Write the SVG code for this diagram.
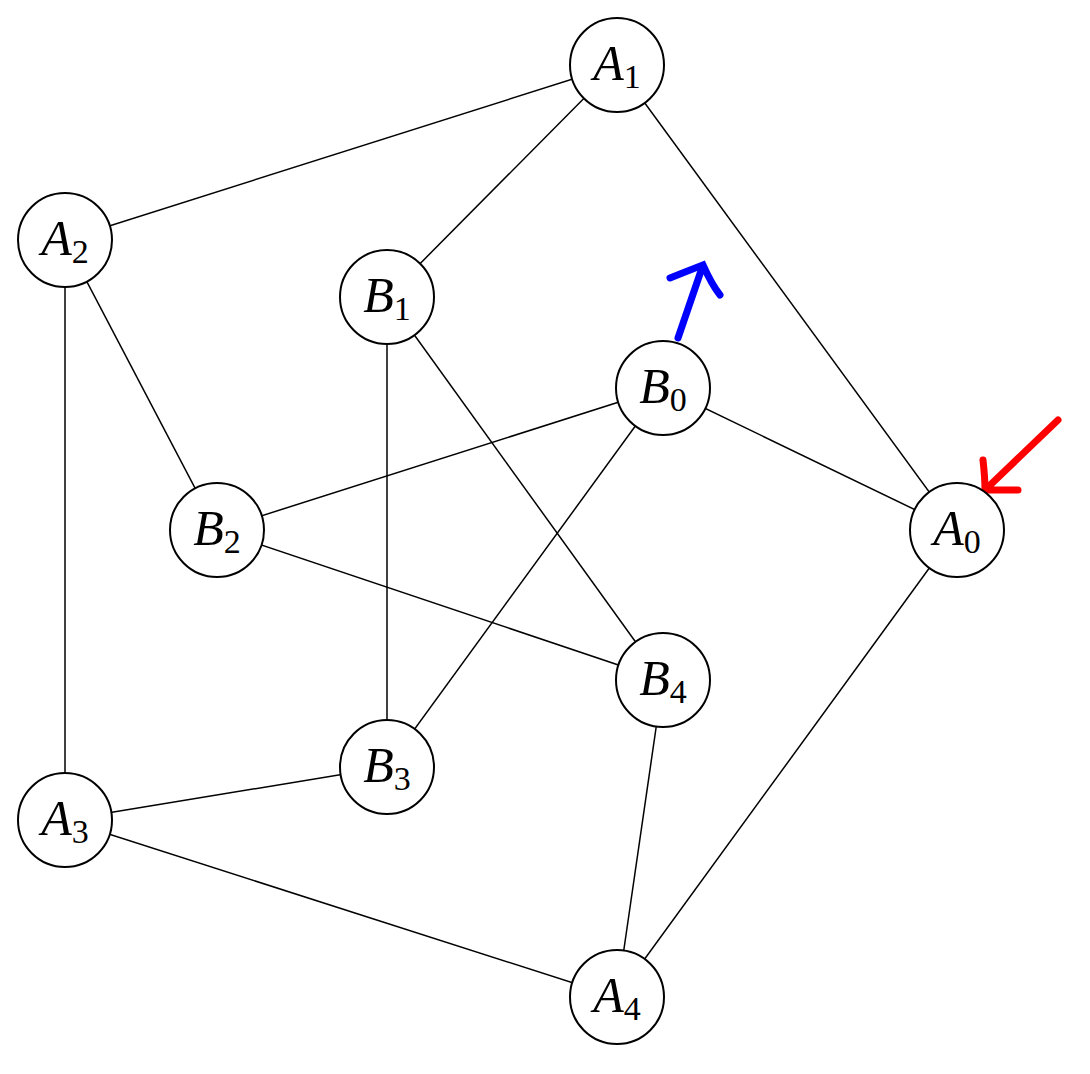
<svg xmlns="http://www.w3.org/2000/svg" width="1090" height="1074" viewBox="0 0 1090 1074">
<style>
.n circle{fill:#fff;stroke:#000;stroke-width:2}
.n text{font-family:"Liberation Serif",serif;font-size:50px;text-anchor:middle}
.l{font-style:italic}
.s{font-size:34px}
#edges line{stroke:#000;stroke-width:1.5}
</style>
<rect width="1090" height="1074" fill="#fff"/>
<g id="edges">
<line x1="617" y1="65" x2="65" y2="240"/>
<line x1="617" y1="65" x2="387" y2="297"/>
<line x1="617" y1="65" x2="957" y2="530"/>
<line x1="65" y1="240" x2="217" y2="530"/>
<line x1="65" y1="240" x2="65" y2="820"/>
<line x1="387" y1="297" x2="387" y2="767"/>
<line x1="387" y1="297" x2="663" y2="680"/>
<line x1="663" y1="388" x2="217" y2="530"/>
<line x1="663" y1="388" x2="387" y2="767"/>
<line x1="663" y1="388" x2="957" y2="530"/>
<line x1="217" y1="530" x2="663" y2="680"/>
<line x1="65" y1="820" x2="387" y2="767"/>
<line x1="65" y1="820" x2="617" y2="997"/>
<line x1="663" y1="680" x2="617" y2="997"/>
<line x1="957" y1="530" x2="617" y2="997"/>
<path d="M678,338 L703,265 M670,278 Q690,270 703,265 Q712,285 720,295" fill="none" stroke="#00f" stroke-width="7" stroke-linecap="round"/>
<path d="M1058,420 L985,490 M983,460 Q985,478 985,490 Q1002,490 1018,490" fill="none" stroke="#f00" stroke-width="7" stroke-linecap="round"/>
</g>
<g id="A1" class="n"><circle cx="617" cy="65" r="47"/><text x="617" y="80"><tspan class="l">A</tspan><tspan class="s" dy="8">1</tspan></text></g>
<g id="A2" class="n"><circle cx="65" cy="240" r="47"/><text x="65" y="255"><tspan class="l">A</tspan><tspan class="s" dy="8">2</tspan></text></g>
<g id="A3" class="n"><circle cx="65" cy="820" r="47"/><text x="65" y="835"><tspan class="l">A</tspan><tspan class="s" dy="8">3</tspan></text></g>
<g id="A4" class="n"><circle cx="617" cy="997" r="47"/><text x="617" y="1012"><tspan class="l">A</tspan><tspan class="s" dy="8">4</tspan></text></g>
<g id="A0" class="n"><circle cx="957" cy="530" r="47"/><text x="957" y="545"><tspan class="l">A</tspan><tspan class="s" dy="8">0</tspan></text></g>
<g id="B1" class="n"><circle cx="387" cy="297" r="47"/><text x="387" y="312"><tspan class="l">B</tspan><tspan class="s" dy="8">1</tspan></text></g>
<g id="B0" class="n"><circle cx="663" cy="388" r="47"/><text x="663" y="403"><tspan class="l">B</tspan><tspan class="s" dy="8">0</tspan></text></g>
<g id="B2" class="n"><circle cx="217" cy="530" r="47"/><text x="217" y="545"><tspan class="l">B</tspan><tspan class="s" dy="8">2</tspan></text></g>
<g id="B4" class="n"><circle cx="663" cy="680" r="47"/><text x="663" y="695"><tspan class="l">B</tspan><tspan class="s" dy="8">4</tspan></text></g>
<g id="B3" class="n"><circle cx="387" cy="767" r="47"/><text x="387" y="782"><tspan class="l">B</tspan><tspan class="s" dy="8">3</tspan></text></g>
</svg>
